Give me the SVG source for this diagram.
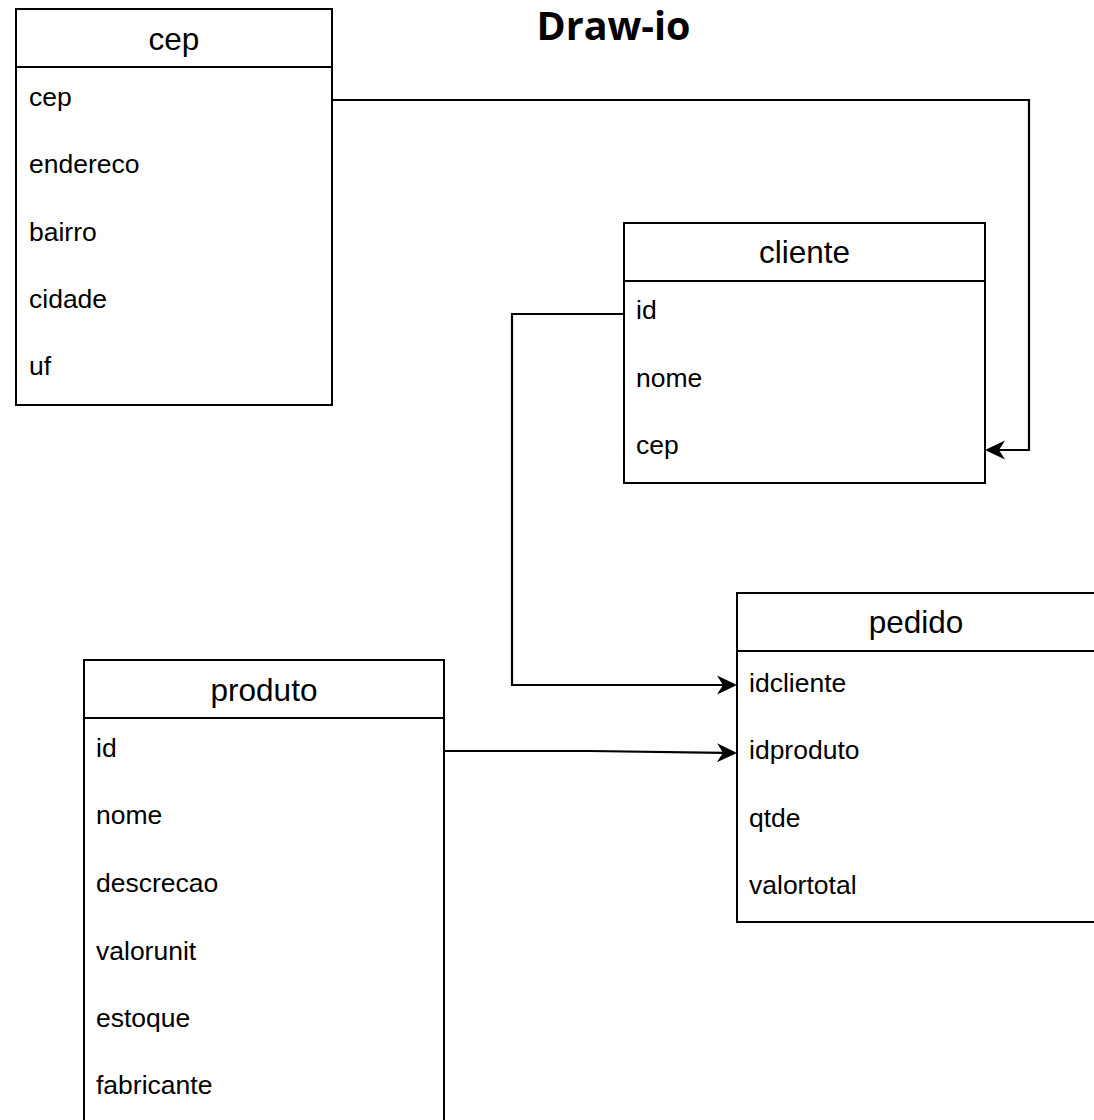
<svg xmlns="http://www.w3.org/2000/svg" width="1094" height="1120" viewBox="0 0 1094 1120">
<style>
.box{fill:#fff;stroke:#000;stroke-width:2}
.sep{stroke:#000;stroke-width:2}
.hdr{font-family:"Liberation Sans",Arial,sans-serif;font-size:31.5px;fill:#000;text-anchor:middle}
.row{font-family:"Liberation Sans",Arial,sans-serif;font-size:26.5px;fill:#000}
.title{font-family:"Open Sans","Liberation Sans",sans-serif;font-size:39.5px;font-weight:bold;fill:#000;text-anchor:middle}
.conn{fill:none;stroke:#000;stroke-width:2.2}
</style>
<defs>
<marker id="arr" markerUnits="userSpaceOnUse" markerWidth="24" markerHeight="24" viewBox="0 0 24 24" refX="8" refY="12" orient="auto">
<path d="M2,2.5 L22,12 L2,21.5 L8,12 Z" fill="#000"/>
</marker>
</defs>
<rect width="1094" height="1120" fill="#fff"/>
<text class="title" x="613.5" y="40">Draw-io</text>
<g id="connectors">
<path class="conn" d="M332,100 L1029,100 L1029,450 L999,450" marker-end="url(#arr)"/>
<path class="conn" d="M624,314 L512,314 L512,685 L723,685" marker-end="url(#arr)"/>
<path class="conn" d="M444,751 L590,751 L723,752.8" marker-end="url(#arr)"/>
</g>
<g id="cep">
<rect class="box" x="16" y="9" width="316" height="396"/>
<line class="sep" x1="16" y1="67" x2="332" y2="67"/>
<text class="hdr" x="174" y="50">cep</text>
<text class="row" x="29" y="106">cep</text>
<text class="row" x="29" y="173">endereco</text>
<text class="row" x="29" y="241">bairro</text>
<text class="row" x="29" y="308">cidade</text>
<text class="row" x="29" y="375">uf</text>
</g>
<g id="cliente">
<rect class="box" x="624" y="223" width="361" height="260"/>
<line class="sep" x1="624" y1="281" x2="985" y2="281"/>
<text class="hdr" x="804.5" y="263">cliente</text>
<text class="row" x="636" y="319">id</text>
<text class="row" x="636" y="387">nome</text>
<text class="row" x="636" y="454">cep</text>
</g>
<g id="pedido">
<rect class="box" x="737" y="593" width="400" height="329"/>
<line class="sep" x1="737" y1="651" x2="1137" y2="651"/>
<text class="hdr" x="916" y="633">pedido</text>
<text class="row" x="749" y="692">idcliente</text>
<text class="row" x="749" y="759">idproduto</text>
<text class="row" x="749" y="827">qtde</text>
<text class="row" x="749" y="894">valortotal</text>
</g>
<g id="produto">
<rect class="box" x="84" y="660" width="360" height="480"/>
<line class="sep" x1="84" y1="718" x2="444" y2="718"/>
<text class="hdr" x="264" y="701">produto</text>
<text class="row" x="96" y="757">id</text>
<text class="row" x="96" y="824">nome</text>
<text class="row" x="96" y="892">descrecao</text>
<text class="row" x="96" y="960">valorunit</text>
<text class="row" x="96" y="1027">estoque</text>
<text class="row" x="96" y="1094">fabricante</text>
</g>
</svg>
